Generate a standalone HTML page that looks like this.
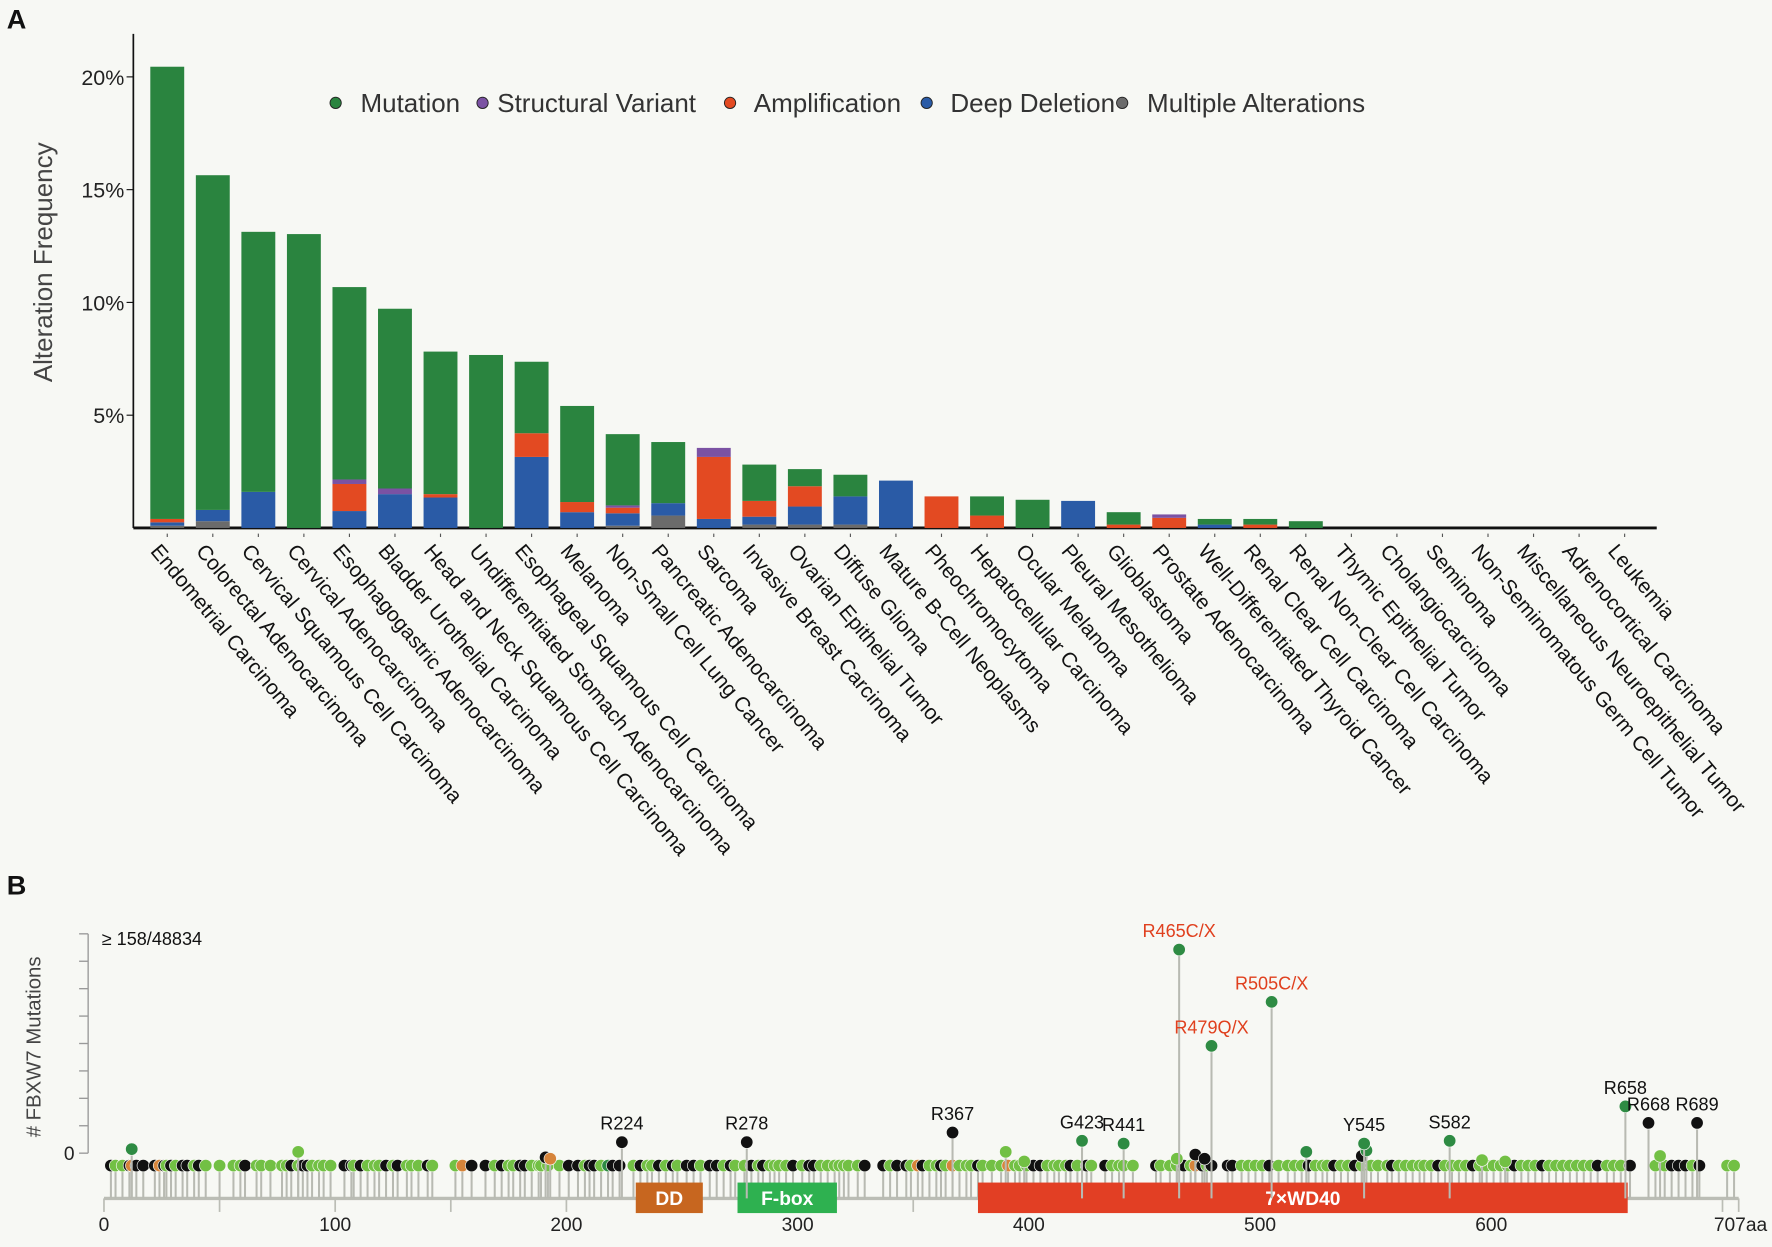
<!DOCTYPE html>
<html><head><meta charset="utf-8">
<style>
html,body{margin:0;padding:0;background:#f7f8f4;}
svg{display:block;font-family:"Liberation Sans",Arial,sans-serif;}
</style></head>
<body>
<svg id="fig" width="1772" height="1247" viewBox="0 0 1568 1103" preserveAspectRatio="none" xmlns="http://www.w3.org/2000/svg">
<rect x="0" y="0" width="1568" height="1103" fill="#f7f8f4"/>
<text x="6" y="25" font-size="24" font-weight="bold" fill="#111">A</text>
<text x="6" y="791" font-size="24" font-weight="bold" fill="#111">B</text>
<g id="chartA"></g>
<g id="chartB"></g>
</svg>
<script>
const NS='http://www.w3.org/2000/svg';
const categories=["Endometrial Carcinoma","Colorectal Adenocarcinoma","Cervical Squamous Cell Carcinoma","Cervical Adenocarcinoma","Esophagogastric Adenocarcinoma","Bladder Urothelial Carcinoma","Head and Neck Squamous Cell Carcinoma","Undifferentiated Stomach Adenocarcinoma","Esophageal Squamous Cell Carcinoma","Melanoma","Non-Small Cell Lung Cancer","Pancreatic Adenocarcinoma","Sarcoma","Invasive Breast Carcinoma","Ovarian Epithelial Tumor","Diffuse Glioma","Mature B-Cell Neoplasms","Pheochromocytoma","Hepatocellular Carcinoma","Ocular Melanoma","Pleural Mesothelioma","Glioblastoma","Prostate Adenocarcinoma","Well-Differentiated Thyroid Cancer","Renal Clear Cell Carcinoma","Renal Non-Clear Cell Carcinoma","Thymic Epithelial Tumor","Cholangiocarcinoma","Seminoma","Non-Seminomatous Germ Cell Tumor","Miscellaneous Neuroepithelial Tumor","Adrenocortical Carcinoma","Leukemia"];
const multiple=[0.1,0.3,0,0,0,0,0,0,0,0,0.1,0.55,0,0.15,0.15,0.15,0,0,0,0,0,0,0,0,0,0,0,0,0,0,0,0,0];
const deepDeletion=[0.15,0.5,1.6,0,0.75,1.5,1.35,0,3.15,0.7,0.55,0.55,0.4,0.35,0.8,1.25,2.1,0,0,0,1.2,0,0,0.15,0,0,0,0,0,0,0,0,0];
const amplification=[0.15,0,0,0,1.2,0,0.15,0,1.05,0.45,0.25,0,2.75,0.7,0.9,0,0,1.4,0.55,0,0,0.15,0.45,0,0.15,0,0,0,0,0,0,0,0];
const structuralVariant=[0,0,0,0,0.2,0.25,0,0,0,0,0.1,0,0.4,0,0,0,0,0,0,0,0,0,0.15,0,0,0,0,0,0,0,0,0,0];
const mutation=[20.05,14.84,11.53,13.03,8.53,7.97,6.32,7.67,3.17,4.26,3.16,2.71,0,1.61,0.76,0.96,0,0,0.85,1.25,0,0.55,0,0.25,0.25,0.3,0,0,0,0,0,0,0];
const yTicksA=[5,10,15,20];
const yTickLabelsA=["5%","10%","15%","20%"];

function el(tag,attrs,parent){const e=document.createElementNS(NS,tag);for(const k in attrs)e.setAttribute(k,attrs[k]);parent.appendChild(e);return e;}

// ---- Chart A ----
const A=document.getElementById('chartA');
const a0=467, aPer=19.95;
const yA=v=>a0-v*aPer;
const xA=i=>148+i*40.3;
const bw=30;
let ax=el('line',{x1:118,y1:30,x2:118,y2:a0,stroke:'#111','stroke-width':1.5},A);


let bx=el('line',{x1:118,y1:a0,x2:1466,y2:a0,stroke:'#111','stroke-width':2.5},A);


yTicksA.forEach((t,i)=>{
  const tk=el('line',{x1:112,y1:yA(t),x2:118,y2:yA(t),stroke:'#111','stroke-width':1},A);
  
  
  const tl=el('text',{x:110,y:yA(t)+7,'font-size':19,'text-anchor':'end',fill:'#222'},A);
  tl.textContent=yTickLabelsA[i];
  
  
});
const yt=el('text',{x:0,y:0,'font-size':23,'text-anchor':'middle',fill:'#444',transform:'translate(46,232) rotate(-90)'},A);
yt.textContent='Alteration Frequency';


const series=[[multiple,'#6b6b6b','multiple-alterations'],[deepDeletion,'#2a5ba6','deep-deletion'],[amplification,'#e34a22','amplification'],[structuralVariant,'#7b52a3','structural-variant'],[mutation,'#2a843f','mutation']];
categories.forEach((c,i)=>{
  let base=0;
  series.forEach(s=>{
    const v=s[0][i];
    if(v>0){
      const r=el('rect',{x:xA(i)-bw/2,y:yA(base+v),width:bw,height:v*aPer,fill:s[1]},A);
      
      
      base+=v;
    }
  });
  const tk=el('line',{x1:xA(i),y1:a0+5,x2:xA(i),y2:a0+8,stroke:'#555','stroke-width':1},A);
  
  
  const t=el('text',{x:0,y:0,'font-size':18.5,fill:'#111',transform:'translate('+(xA(i)-5)+','+(a0+12)+') rotate(50)'},A);
  t.setAttribute('dy','0.75em');
  t.textContent=c;
  
  
});
const legendItems=[["Mutation",'#2a843f',297,319],["Structural Variant",'#7b52a3',427,440],["Amplification",'#e34a22',646,667],["Deep Deletion",'#2a5ba6',820,841],["Multiple Alterations",'#6b6b6b',993,1015]];
legendItems.forEach(l=>{
  const g=el('g',{},A);
  
  
  el('circle',{cx:l[2],cy:91,r:5,fill:l[1],stroke:'#222','stroke-width':0.8},g);
  const t=el('text',{x:l[3],y:99,'font-size':23,fill:'#333'},g);
  t.textContent=l[0];
});

// ---- Chart B ----
const B=document.getElementById('chartB');
const xB=aa=>92+aa*2.046;
const yB=c=>1032.2-1.217*c;
const axisY=1060;
const basePos=[3,5,8,11,12,14,17,22,24,26,27,29,31,34,36,39,41,44,50,56,59,61,66,68,72,77,79,81,84,86,88,90,93,95,98,104,107,108,111,114,117,119,122,125,127,131,133,136,140,142,152,155,159,165,169,172,175,177,180,182,185,188,189,192,197,201,205,208,210,212,215,218,220,223,229,232,235,237,240,243,246,248,252,255,258,262,265,268,271,273,277,280,283,285,288,290,292,295,298,302,305,307,310,313,316,318,320,322,326,329,337,340,343,347,349,352,354,357,360,362,364,367,370,373,375,378,380,384,388,391,394,396,399,402,405,408,411,413,416,418,421,425,427,433,436,439,441,445,455,457,461,464,467,470,472,475,477,479,486,488,492,495,498,501,504,508,512,515,518,521,524,527,529,532,535,538,541,544,548,551,555,557,560,563,566,569,571,574,577,580,583,586,589,592,595,598,601,604,607,610,613,616,619,622,625,628,631,634,637,640,643,646,650,653,656,660,671,675,678,681,684,687,690,702,705];
const baseType="kggkokkkokgkgkkgkggggkgggggkgkkggggkkgkgggkgkgggkggokkgkggkkgggggkkgkkgdkkgkggkgkgkkgkkgkggkgkggggkgkkgggggggkkgkkgokggkgogggkgggogggkkggggkgkgkggggkgggkgokgkkkggggkggggkgggkggkggggkggggggkggggkgggggkgggkgggggggkgggkggkkkgkgggggkggggk";
const midPos=[12,84,191,193,390,398,464,472,476,520,544,546,596,606,673];
const midCount=[13,11,7,6,11,4,6,9,6,11,8,12,5,4,8];
const midType="dgkogggkkdkdggg";
const hotPos=[224,278,367,423,441,465,479,505,545,582,658,668,689];
const hotCount=[18,18,25,19,17,158,88,120,17,19,44,32,32];
const hotType="kkkddddddddkkd";
const hotLabels=["R224","R278","R367","G423","R441","R465C/X","R479Q/X","R505C/X","Y545","S582","R658","R668","R689"];
const colors={g:'#72c044',k:'#111111',o:'#d6843a',d:'#2e8b43'};

const yl=el('line',{x1:78,y1:826,x2:78,y2:1020,stroke:'#999','stroke-width':1.2},B);


for(let i=0;i<=8;i++){
  const yy=826+i*24.25;
  const t=el('line',{x1:70,y1:yy,x2:78,y2:yy,stroke:'#999','stroke-width':1.2},B);
  
  
}
let t0=el('text',{x:66,y:1026,'font-size':17,'text-anchor':'end',fill:'#222'},B);t0.textContent='0';


let tmax=el('text',{x:90,y:836,'font-size':16,fill:'#111'},B);tmax.textContent='≥ 158/48834';


let ytb=el('text',{x:0,y:0,'font-size':18,'text-anchor':'middle',fill:'#444',transform:'translate(36,926) rotate(-90)'},B);
ytb.textContent='# FBXW7 Mutations';



const pl=el('line',{x1:xB(0),y1:axisY,x2:xB(707),y2:axisY,stroke:'#bbbdb5','stroke-width':3},B);


for(let aa=0;aa<=700;aa+=50){
  const t=el('line',{x1:xB(aa),y1:axisY,x2:xB(aa),y2:1072,stroke:'#bbbdb5','stroke-width':1.5},B);
  
  
}
let te=el('line',{x1:xB(707),y1:axisY,x2:xB(707),y2:1072,stroke:'#bbbdb5','stroke-width':1.5},B);


[0,100,200,300,400,500,600].forEach(v=>{
  const t=el('text',{x:xB(v),y:1089,'font-size':17,'text-anchor':'middle',fill:'#222'},B);t.textContent=v;
  
  
});
let t707=el('text',{x:xB(707)-22,y:1089,'font-size':17,fill:'#222'},B);t707.textContent='707aa';



function lolli(aa,c,type,name){
  const s=el('line',{x1:xB(aa),y1:axisY,x2:xB(aa),y2:yB(c),stroke:'#b8bab2','stroke-width':1.8},B);
  
  
  const d=el('circle',{cx:xB(aa),cy:yB(c),r:5.5,fill:colors[type],stroke:'#f7f8f4','stroke-width':0.6},B);
  
  
}
basePos.forEach((p,i)=>lolli(p,1,baseType[i]||'g','mutation-dot'));
midPos.forEach((p,i)=>lolli(p,midCount[i],midType[i],'mutation-dot'));
const domains=[[230,259,'#c7661f','DD','dd-domain'],[274,317,'#2eb150','F-box','fbox-domain'],[378,659,'#e23f24','7×WD40','wd40-domain']];
domains.forEach(d=>{
  const g=el('g',{},B);
  
  
  el('rect',{x:xB(d[0]),y:1046,width:xB(d[1])-xB(d[0]),height:27,fill:d[2]},g);
  const t=el('text',{x:(xB(d[0])+xB(d[1]))/2,y:1066,'font-size':17,'font-weight':'bold','text-anchor':'middle',fill:'#fff'},g);
  t.textContent=d[3];
});
hotPos.forEach((p,i)=>{
  lolli(p,hotCount[i],hotType[i],'hotspot-dot');
  const red=hotCount[i]>60;
  const t=el('text',{x:xB(p),y:yB(hotCount[i])-11,'font-size':16,'text-anchor':'middle',fill:red?'#e0401e':'#111'},B);
  t.textContent=hotLabels[i];
  
  
});
</script>
</body></html>
